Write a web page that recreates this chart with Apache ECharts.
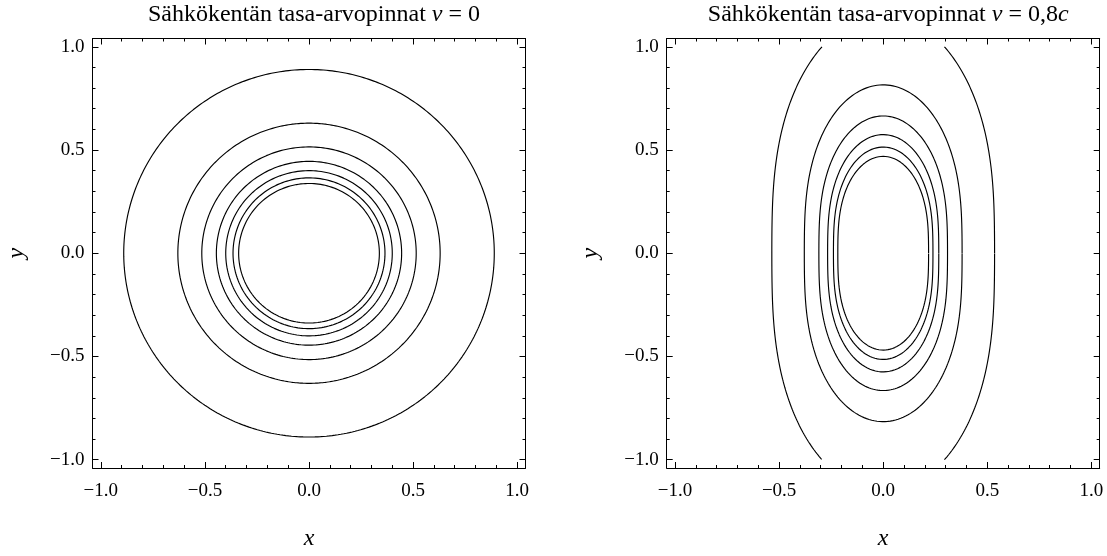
<!DOCTYPE html>
<html><head><meta charset="utf-8">
<script src="https://cdn.jsdelivr.net/npm/echarts@6/dist/echarts.min.js"></script>
<style>html,body{margin:0;padding:0;background:#fff}#c{width:1107px;height:556px}</style>
</head><body><div id="c"></div>
<script>
// ---- data ----
const majorTicks = [-1.0, -0.5, 0.0, 0.5, 1.0];
const minorTicks = [-0.9, -0.8, -0.7, -0.6, -0.4, -0.3, -0.2, -0.1, 0.1, 0.2, 0.3, 0.4, 0.6, 0.7, 0.8, 0.9];
const axisMin = -1.04, axisMax = 1.04;
// left panel (v = 0): circle radii of the equipotential contours
const leftRadii = [0.89, 0.63, 0.515, 0.445, 0.40, 0.365, 0.338];
// right panel (v = 0.8c): half-widths along x (at y = 0) of each contour
const rightHalfWidths = [0.535, 0.379, 0.309, 0.267, 0.239, 0.218];
const beta = 0.8;           // v = 0,8c
const contourYLimit = 1.0;  // contours computed on |y| <= 1
const titleLeft = ['Sähkökentän tasa-arvopinnat ', 'v', ' = 0'];
const titleRight = ['Sähkökentän tasa-arvopinnat ', 'v', ' = 0,8', 'c'];

// ---- drawing ----
const FONT = 'Liberation Serif';
const grids = [
  {left: 92.5, top: 38.5, width: 433, height: 432.5},
  {left: 666.7, top: 38.5, width: 433, height: 432.5}
];
const fmt = v => (v < 0 ? '\u2212' : '') + Math.abs(v).toFixed(1);

function segments(rOf, ylim) {
  const segs = []; let cur = []; let prev = null; const N = 2400;
  for (let i = 0; i <= N; i++) {
    const t = 2 * Math.PI * i / N, r = rOf(t);
    const p = [r * Math.cos(t), r * Math.sin(t)];
    const inside = Math.abs(p[1]) <= ylim;
    if (prev) {
      const prevIn = Math.abs(prev[1]) <= ylim;
      if (prevIn !== inside) {
        const lim = (inside ? prev[1] : p[1]) > 0 ? ylim : -ylim;
        const f = (lim - prev[1]) / (p[1] - prev[1]);
        const q = [prev[0] + f * (p[0] - prev[0]), lim];
        if (prevIn) { cur.push(q); segs.push(cur); cur = []; }
        else { cur.push(q); }
      }
    }
    if (inside) cur.push(p);
    prev = p;
  }
  if (cur.length) segs.push(cur);
  return segs;
}

const xAxes = [], yAxes = [];
function addAxes(gi) {
  const common = {type: 'value', gridIndex: gi, min: axisMin, max: axisMax, splitLine: {show: false}};
  const line = {show: true, onZero: false, lineStyle: {color: '#000', width: 1}};
  const noLine = {show: false, onZero: false};
  const majTick = {show: true, inside: true, length: 6, customValues: majorTicks, lineStyle: {color: '#000', width: 1}};
  const minTick = {show: true, inside: true, length: 3, customValues: minorTicks, lineStyle: {color: '#000', width: 1}};
  const lab = {show: true, customValues: majorTicks, formatter: fmt, fontFamily: FONT, fontSize: 19, color: '#000'};
  // x axes
  xAxes.push(Object.assign({}, common, {position: 'bottom', axisLine: line, axisTick: majTick, axisLabel: Object.assign({}, lab, {margin: 14}),
    name: 'x', nameLocation: 'middle', nameGap: 59, nameTextStyle: {fontFamily: FONT, fontStyle: 'italic', fontSize: 24, color: '#000'}}));
  xAxes.push(Object.assign({}, common, {position: 'bottom', axisLine: noLine, axisTick: minTick, axisLabel: {show: false}}));
  xAxes.push(Object.assign({}, common, {position: 'top', axisLine: line, axisTick: majTick, axisLabel: {show: false}}));
  xAxes.push(Object.assign({}, common, {position: 'top', axisLine: noLine, axisTick: minTick, axisLabel: {show: false}}));
  // y axes
  yAxes.push(Object.assign({}, common, {position: 'left', axisLine: line, axisTick: majTick, axisLabel: Object.assign({}, lab, {margin: 8}),
    name: 'y', nameLocation: 'middle', nameGap: 64, nameTextStyle: {fontFamily: FONT, fontStyle: 'italic', fontSize: 24, color: '#000'}}));
  yAxes.push(Object.assign({}, common, {position: 'left', axisLine: noLine, axisTick: minTick, axisLabel: {show: false}}));
  yAxes.push(Object.assign({}, common, {position: 'right', axisLine: line, axisTick: majTick, axisLabel: {show: false}}));
  yAxes.push(Object.assign({}, common, {position: 'right', axisLine: noLine, axisTick: minTick, axisLabel: {show: false}}));
}
addAxes(0); addAxes(1);

const series = [];
function addCurve(segs, gi) {
  segs.forEach(s => series.push({
    type: 'line', xAxisIndex: gi * 4, yAxisIndex: gi * 4, data: s, showSymbol: false, symbol: 'none',
    smooth: false, lineStyle: {color: '#000', width: 1.15}, silent: true, animation: false, clip: true
  }));
}
leftRadii.forEach(R => addCurve(segments(() => R, contourYLimit), 0));
rightHalfWidths.forEach(a => addCurve(segments(t => {
  const s = Math.sin(t);
  return a * Math.pow(1 - beta * beta * s * s, -0.75);
}, contourYLimit), 1));

function richTitle(parts, gi) {
  const keys = ['n', 'i', 'n', 'i'];
  const text = parts.map((p, k) => '{' + keys[k] + '|' + p + '}').join('');
  return {
    text: text, left: grids[gi].left + grids[gi].width / 2, top: -2, textAlign: 'center',
    textStyle: {fontWeight: 'normal', rich: {
      n: {fontFamily: FONT, fontSize: 24, fontWeight: 'normal', color: '#000'},
      i: {fontFamily: FONT, fontSize: 24, fontWeight: 'normal', fontStyle: 'italic', color: '#000'}
    }}
  };
}

const chart = echarts.init(document.getElementById('c'), null, {renderer: 'canvas'});
chart.setOption({
  animation: false,
  backgroundColor: '#fff',
  title: [richTitle(titleLeft, 0), richTitle(titleRight, 1)],
  grid: grids.map(g => Object.assign({containLabel: false}, g)),
  xAxis: xAxes,
  yAxis: yAxes,
  series: series
});
</script></body></html>
